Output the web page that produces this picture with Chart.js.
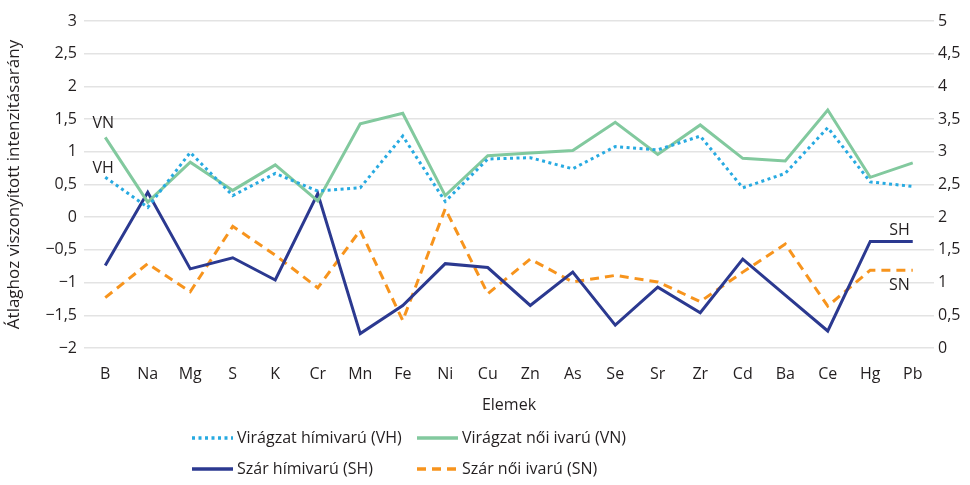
<!DOCTYPE html>
<html>
<head>
<meta charset="utf-8">
<script src="https://cdn.jsdelivr.net/npm/chart.js@4"></script>
<style>
  html, body { margin: 0; padding: 0; background: #fff; }
  #wrap { width: 970px; height: 485px; }
</style>
</head>
<body>
<div id="wrap"><canvas id="chart" width="970" height="485"></canvas></div>
<script>
const elements = ['B','Na','Mg','S','K','Cr','Mn','Fe','Ni','Cu','Zn','As','Se','Sr','Zr','Cd','Ba','Ce','Hg','Pb'];

// left axis (virágzat)
const vh = [0.61,0.15,0.99,0.33,0.67,0.40,0.45,1.24,0.24,0.89,0.91,0.74,1.08,1.03,1.24,0.45,0.67,1.37,0.54,0.47];
const vn = [1.22,0.23,0.84,0.41,0.80,0.25,1.43,1.59,0.33,0.94,0.98,1.02,1.45,0.96,1.41,0.90,0.86,1.64,0.61,0.83];
// right axis (szár)
const sh = [1.26,2.38,1.21,1.38,1.04,2.36,0.22,0.65,1.29,1.23,0.65,1.16,0.35,0.93,0.54,1.36,0.81,0.26,1.63,1.63];
const sn = [0.77,1.29,0.86,1.86,1.42,0.92,1.80,0.42,2.13,0.83,1.36,1.01,1.11,1.01,0.71,1.16,1.59,0.64,1.19,1.19];

const leftTicks = [-2,-1.5,-1,-0.5,0,0.5,1,1.5,2,2.5,3];
const rightTicks = [0,0.5,1,1.5,2,2.5,3,3.5,4,4.5,5];

const FONT = '"Open Sans", sans-serif';
const TXT = '#231f20';
const C_VH = '#27aae1', C_VN = '#82c99e', C_SH = '#2b3990', C_SN = '#f7941d';

function fmt(v){ return String(v).replace('.', ',').replace('-', '\u2212'); }

const series = [
  { label: 'Virágzat hímivarú (VH)', short: 'VH', data: vh, color: C_VH, dash: [3,3.5], axis: 'y' },
  { label: 'Virágzat női ivarú (VN)', short: 'VN', data: vn, color: C_VN, dash: [], axis: 'y' },
  { label: 'Szár hímivarú (SH)', short: 'SH', data: sh, color: C_SH, dash: [], axis: 'y2' },
  { label: 'Szár női ivarú (SN)', short: 'SN', data: sn, color: C_SN, dash: [9,6], axis: 'y2' }
];

// series labels next to lines + custom two-column legend
const extras = {
  id: 'extras',
  afterDatasetsDraw(chart){
    const ctx = chart.ctx;
    ctx.save();
    ctx.fillStyle = TXT;
    ctx.font = '16px ' + FONT;
    const pt = (di, i) => chart.getDatasetMeta(di).data[i];
    let p;
    ctx.textAlign = 'center'; ctx.textBaseline = 'bottom';
    p = pt(0, 0); ctx.fillText('VH', p.x - 2, p.y - 1);
    p = pt(1, 0); ctx.fillText('VN', p.x - 2, p.y - 6);
    ctx.textAlign = 'right';
    const last = elements.length - 1;
    p = pt(2, last); ctx.fillText('SH', p.x - 3, p.y - 3);
    ctx.textBaseline = 'top';
    p = pt(3, last); ctx.fillText('SN', p.x - 3, p.y + 7);

    // legend
    const cols = [192, 417];
    const rows = [438, 469];
    ctx.textAlign = 'left'; ctx.textBaseline = 'middle';
    series.forEach((s, k) => {
      const x = cols[k % 2], y = rows[Math.floor(k / 2)];
      ctx.beginPath();
      ctx.strokeStyle = s.color;
      ctx.lineWidth = 3.5;
      ctx.setLineDash(s.dash);
      ctx.moveTo(x, y); ctx.lineTo(x + 41, y);
      ctx.stroke();
      ctx.setLineDash([]);
      ctx.fillText(s.label, x + 45, y);
    });
    ctx.restore();
  }
};

new Chart(document.getElementById('chart').getContext('2d'), {
  type: 'line',
  data: {
    labels: elements,
    datasets: series.map(s => ({
      label: s.label,
      data: s.data,
      yAxisID: s.axis,
      borderColor: s.color,
      backgroundColor: s.color,
      borderWidth: 3,
      borderDash: s.dash,
      borderCapStyle: 'butt',
      pointRadius: 0,
      tension: 0,
      fill: false
    }))
  },
  options: {
    responsive: false,
    animation: false,
    devicePixelRatio: 1,
    layout: { padding: { top: 21, bottom: 70, left: 4, right: 0 } },
    plugins: { legend: { display: false }, tooltip: { enabled: false } },
    scales: {
      x: {
        offset: true,
        grid: { display: false },
        border: { display: false },
        ticks: { color: TXT, font: { family: FONT, size: 16 }, padding: 9, maxRotation: 0, autoSkip: false },
        title: { display: true, text: 'Elemek', color: TXT, font: { family: FONT, size: 16 }, padding: { top: 0, bottom: 0 } },
        afterFit(scale){ scale.height = 67; }
      },
      y: {
        position: 'left',
        min: -2, max: 3,
        afterBuildTicks(scale){ scale.ticks = leftTicks.map(v => ({ value: v })); },
        grid: { color: '#e3e3e3', lineWidth: 1.5, drawTicks: false },
        border: { display: false },
        ticks: { color: TXT, font: { family: FONT, size: 16 }, padding: 7, callback: v => fmt(v) },
        title: { display: true, text: 'Átlaghoz viszonyított intenzitásarány', color: TXT, font: { family: FONT, size: 17 }, padding: { top: 0, bottom: 4 } },
        afterFit(scale){ scale.width = 80; }
      },
      y2: {
        position: 'right',
        min: 0, max: 5,
        afterBuildTicks(scale){ scale.ticks = rightTicks.map(v => ({ value: v })); },
        grid: { drawOnChartArea: false, drawTicks: false },
        border: { display: false },
        ticks: { color: TXT, font: { family: FONT, size: 16 }, padding: 4, callback: v => fmt(v) },
        afterFit(scale){ scale.width = 36; }
      }
    }
  },
  plugins: [extras]
});
</script>
</body>
</html>
